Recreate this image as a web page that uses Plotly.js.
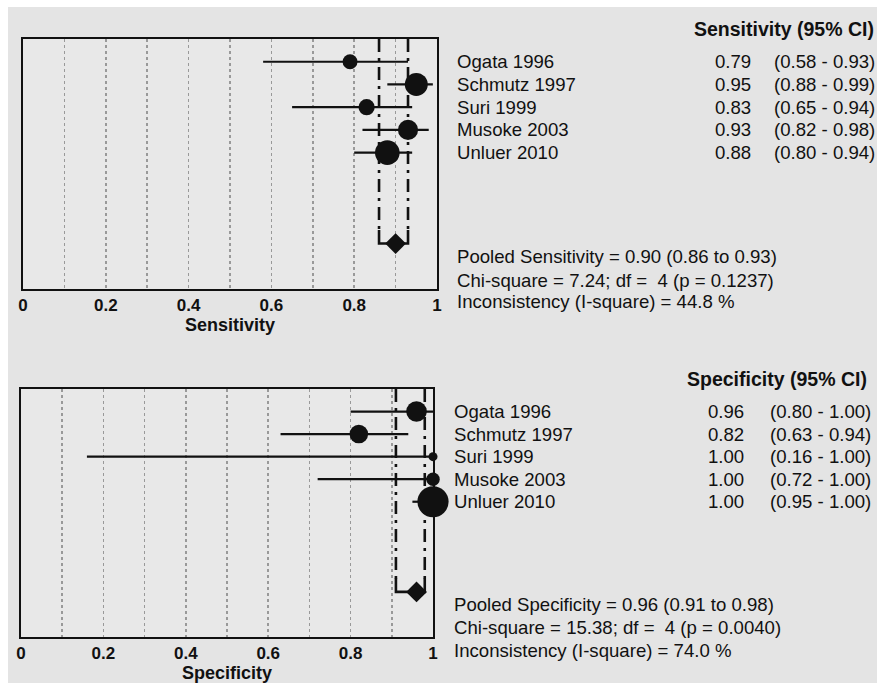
<!DOCTYPE html>
<html>
<head>
<meta charset="utf-8">
<script src="https://cdn.plot.ly/plotly-3.0.1.min.js"></script>
<style>html,body{margin:0;padding:0;background:#fff;}#chart{width:882px;height:683px;}</style>
</head>
<body>
<div id="chart"></div>
<script>
// ---- data ----
const studies = ['Ogata 1996', 'Schmutz 1997', 'Suri 1999', 'Musoke 2003', 'Unluer 2010'];
const studyRows = [1, 2, 3, 4, 5];
const pooledRow = 9;

const sensValue = [0.79, 0.95, 0.83, 0.93, 0.88];
const sensLow = [0.58, 0.88, 0.65, 0.82, 0.80];
const sensHigh = [0.93, 0.99, 0.94, 0.98, 0.94];
const sensWeight = [11, 26, 13, 20, 30];
const pooledSens = [0.90, 0.86, 0.93];
const sensChiSquare = 7.24, sensDf = 4, sensP = 0.1237, sensI2 = 44.8;

const specValue = [0.96, 0.82, 1.00, 1.00, 1.00];
const specLow = [0.80, 0.63, 0.16, 0.72, 0.95];
const specHigh = [1.00, 0.94, 1.00, 1.00, 1.00];
const specWeight = [21, 17, 4, 9, 48];
const pooledSpec = [0.96, 0.91, 0.98];
const specChiSquare = 15.38, specDf = 4, specP = 0.0040, specI2 = 74.0;

const xTickVals = [0, 0.2, 0.4, 0.6, 0.8, 1];
const xTickText = ['0', '0.2', '0.4', '0.6', '0.8', '1'];

// ---- layout helpers ----
const W = 882, H = 683;
const px = x => x / W;
const py = y => 1 - y / H;
const FONT = 'Liberation Sans, Arial, sans-serif';
const INK = '#111';
const GRID = '#999999';
const TXT = 18.6;

function panelTraces(vals, lo, hi, w, pooled, xa, ya) {
  const t = [];
  // pooled CI dash-dot verticals
  [pooled[1], pooled[2]].forEach(v => {
    t.push({x: [v, v], y: [0, 8.45], xaxis: xa, yaxis: ya, mode: 'lines', hoverinfo: 'skip',
      line: {color: INK, width: 2.6, dash: '13px,6px,3px,6px'}, showlegend: false});
  });
  // bracket
  t.push({x: [pooled[1], pooled[1], pooled[2], pooled[2]], y: [8.4, pooledRow, pooledRow, 8.4],
    xaxis: xa, yaxis: ya, mode: 'lines', hoverinfo: 'skip',
    line: {color: INK, width: 2.6}, showlegend: false});
  // studies
  t.push({x: vals, y: studyRows, xaxis: xa, yaxis: ya, mode: 'markers', showlegend: false,
    marker: {symbol: 'circle', color: INK, opacity: 1, size: w.map(v => 4.5 * Math.sqrt(v)), line: {width: 0}},
    error_x: {type: 'data', symmetric: false,
      array: vals.map((v, i) => hi[i] - v), arrayminus: vals.map((v, i) => v - lo[i]),
      color: INK, thickness: 2.2, width: 0},
    cliponaxis: false});
  // pooled diamond
  t.push({x: [pooled[0]], y: [pooledRow], xaxis: xa, yaxis: ya, mode: 'markers', showlegend: false,
    marker: {symbol: 'diamond', color: INK, opacity: 1, size: 16, line: {width: 0}}, cliponaxis: false});
  return t;
}

const traces = [].concat(
  panelTraces(sensValue, sensLow, sensHigh, sensWeight, pooledSens, 'x', 'y'),
  panelTraces(specValue, specLow, specHigh, specWeight, pooledSpec, 'x2', 'y2')
);

function xAxis(domain, title, anchor) {
  return {
    domain: domain, anchor: anchor, range: [0, 1], fixedrange: true,
    tickmode: 'array', tickvals: xTickVals, ticktext: xTickText,
    ticks: '', tickfont: {family: FONT, size: 17, color: INK, weight: 'bold'},
    showgrid: true, gridcolor: GRID, gridwidth: 1.5, griddash: '3px,3px',
    minor: {dtick: 0.1, tick0: 0, showgrid: true, gridcolor: GRID, gridwidth: 1.5, griddash: '3px,3px', ticks: ''},
    zeroline: false, showline: true, mirror: true, linecolor: INK, linewidth: 2,
    title: {text: '<b>' + title + '</b>', font: {family: FONT, size: 18, color: INK}, standoff: 0}
  };
}
function yAxis(domain, anchor) {
  return {
    domain: domain, anchor: anchor, range: [11, 0], fixedrange: true,
    showticklabels: false, ticks: '', showgrid: false, zeroline: false,
    showline: true, mirror: true, linecolor: INK, linewidth: 2
  };
}

const annotations = [];
function addText(label, xPix, yPos, anchor, bold, yref) {
  annotations.push({text: bold ? '<b>' + label + '</b>' : label, x: px(xPix), xref: 'paper',
    y: yPos, yref: yref || 'paper', xanchor: anchor, yanchor: 'middle', showarrow: false,
    font: {family: FONT, size: bold ? 19.5 : TXT, color: INK}});
}
function ci(a, b) { return '(' + a.toFixed(2) + ' - ' + b.toFixed(2) + ')'; }

// top panel text
addText('Sensitivity (95% CI)', 876, py(29), 'right', true);
studies.forEach((s, i) => {
  addText(s, 455, studyRows[i], 'left', false, 'y');
  addText(sensValue[i].toFixed(2), 753, studyRows[i], 'right', false, 'y');
  addText(ci(sensLow[i], sensHigh[i]), 877, studyRows[i], 'right', false, 'y');
});
addText('Pooled Sensitivity = ' + pooledSens[0].toFixed(2) + ' (' + pooledSens[1].toFixed(2) + ' to ' + pooledSens[2].toFixed(2) + ')', 455, py(257), 'left');
addText('Chi-square = ' + sensChiSquare.toFixed(2) + '; df =\u00a0 ' + sensDf + ' (p = ' + sensP.toFixed(4) + ')', 455, py(280), 'left');
addText('Inconsistency (I-square) = ' + sensI2.toFixed(1) + ' %', 455, py(302), 'left');

// bottom panel text
addText('Specificity (95% CI)', 869, py(379), 'right', true);
studies.forEach((s, i) => {
  addText(s, 452, studyRows[i], 'left', false, 'y2');
  addText(specValue[i].toFixed(2), 746, studyRows[i], 'right', false, 'y2');
  addText(ci(specLow[i], specHigh[i]), 873, studyRows[i], 'right', false, 'y2');
});
addText('Pooled Specificity = ' + pooledSpec[0].toFixed(2) + ' (' + pooledSpec[1].toFixed(2) + ' to ' + pooledSpec[2].toFixed(2) + ')', 452, py(604), 'left');
addText('Chi-square = ' + specChiSquare.toFixed(2) + '; df =\u00a0 ' + specDf + ' (p = ' + specP.toFixed(4) + ')', 452, py(627), 'left');
addText('Inconsistency (I-square) = ' + specI2.toFixed(1) + ' %', 452, py(650), 'left');

const layout = {
  width: W, height: H, margin: {l: 0, r: 0, t: 0, b: 0},
  paper_bgcolor: '#e4e4e4', plot_bgcolor: '#e8e8e8',
  font: {family: FONT, color: INK},
  showlegend: false,
  xaxis: xAxis([px(23), px(437)], 'Sensitivity', 'y'),
  yaxis: yAxis([py(289), py(39)], 'x'),
  xaxis2: xAxis([px(21), px(433)], 'Specificity', 'y2'),
  yaxis2: yAxis([py(637), py(389)], 'x2'),
  shapes: [
    {type: 'rect', xref: 'paper', yref: 'paper', x0: 0, x1: 1, y0: py(7), y1: 1, fillcolor: '#ffffff', line: {width: 0}, layer: 'above'},
    {type: 'rect', xref: 'paper', yref: 'paper', x0: 0, x1: px(8), y0: 0, y1: 1, fillcolor: '#ffffff', line: {width: 0}, layer: 'above'},
    {type: 'rect', xref: 'paper', yref: 'paper', x0: px(877), x1: 1, y0: 0, y1: 1, fillcolor: '#ffffff', line: {width: 0}, layer: 'above'}
  ],
  annotations: annotations
};

Plotly.newPlot('chart', traces, layout, {staticPlot: true, displayModeBar: false});
</script>
</body>
</html>
